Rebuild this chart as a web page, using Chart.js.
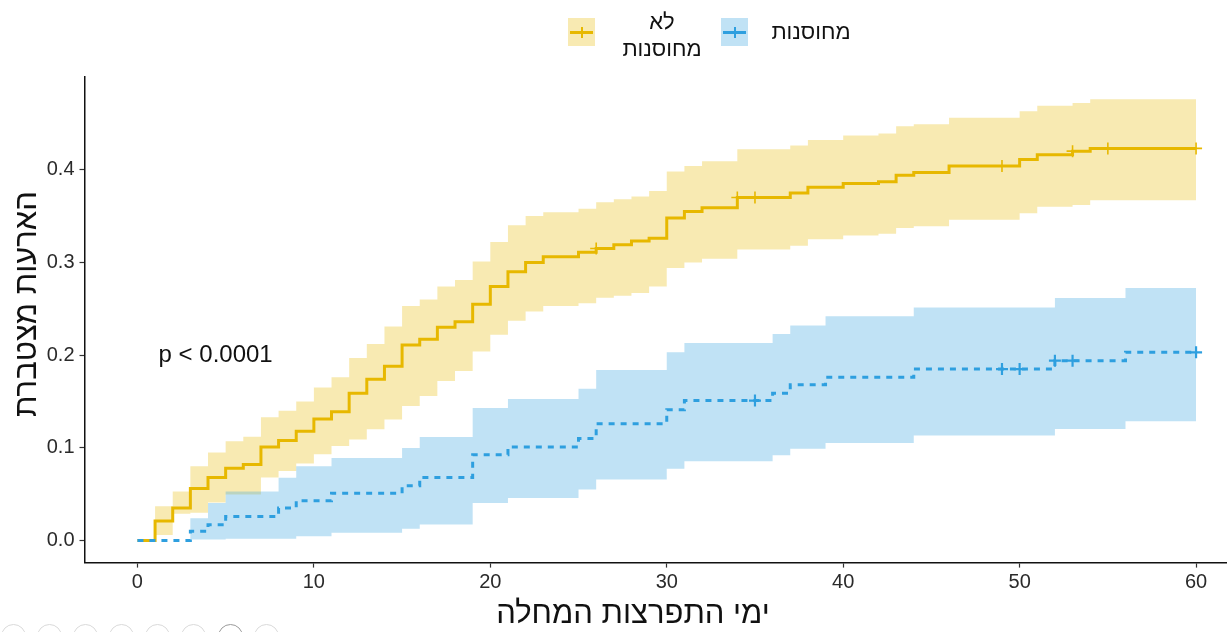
<!DOCTYPE html>
<html lang="he">
<head>
<meta charset="utf-8">
<title>הארעות מצטברת</title>
<script src="https://cdn.jsdelivr.net/npm/chart.js@4.4.1/dist/chart.umd.min.js"></script>
<style>
  html, body { margin: 0; padding: 0; background: #fff; }
  body { width: 1227px; height: 632px; overflow: hidden; position: relative;
         font-family: "Liberation Sans", Arial, "DejaVu Sans", sans-serif; color: #111; }
  #plot { position: absolute; left: 0; top: 0; }
  .key { position: absolute; width: 27px; height: 28px; }
  .key .h { position: absolute; left: 2px; right: 2px; top: 12.5px; height: 3px; }
  .key .v { position: absolute; left: 12.5px; width: 2px; top: 8.5px; height: 11px; }
  .lab { position: absolute; direction: rtl; font-size: 22px; line-height: 27px; text-align: center; white-space: nowrap; }
  .ytitle { position: absolute; width: 400px; text-align: center; direction: rtl; font-size: 31px; line-height: 36px;
            transform: rotate(-90deg); transform-origin: 50% 50%; white-space: nowrap; }
  .xtitle { position: absolute; width: 500px; text-align: center; direction: rtl; font-size: 31px; line-height: 36px; white-space: nowrap; }
  .dot { position: absolute; width: 25px; height: 25px; border-radius: 50%; border: 1.5px solid #d9d9d9; box-sizing: border-box; }
</style>
</head>
<body>
<canvas id="plot" width="1300" height="632"></canvas>

<div class="key" style="left:568px; top:18px; background:rgba(231,184,0,0.3)"><div class="h" style="background:#E7B800"></div><div class="v" style="background:#E7B800"></div></div>
<div class="lab" style="left:612px; top:8px; width:100px;">לא<br>מחוסנות</div>
<div class="key" style="left:721px; top:18px; background:rgba(46,159,223,0.3)"><div class="h" style="background:#2E9FDF"></div><div class="v" style="background:#2E9FDF"></div></div>
<div class="lab" style="left:770px; top:18px; width:82px;">מחוסנות</div>

<div class="ytitle" style="left:-174px; top:286px;">הארעות מצטברת</div>
<div class="xtitle" style="left:383px; top:595px;">ימי התפרצות המחלה</div>

<div class="dot" style="left:1px; top:624px"></div>
<div class="dot" style="left:37px; top:624px"></div>
<div class="dot" style="left:73px; top:624px"></div>
<div class="dot" style="left:109px; top:624px"></div>
<div class="dot" style="left:145px; top:624px"></div>
<div class="dot" style="left:181px; top:624px"></div>
<div class="dot" style="left:218px; top:624px; border-color:#9a9a9a"></div>
<div class="dot" style="left:254px; top:624px"></div>

<script>
// Cumulative incidence by day, not vaccinated (yellow)
const unvaxDays  = [0, 1, 2, 3, 4, 5, 6, 7, 8, 9, 10, 11, 12, 13, 14, 15, 16, 17, 18, 19, 20, 21, 22, 23, 25, 26, 27, 28, 29, 30, 31, 32, 34, 37, 38, 40, 42, 43, 44, 46, 50, 51, 53, 54, 60];
const unvaxCum   = [0, 0.021, 0.035, 0.056, 0.068, 0.078, 0.082, 0.101, 0.108, 0.118, 0.131, 0.139, 0.159, 0.174, 0.188, 0.211, 0.217, 0.230, 0.236, 0.255, 0.274, 0.290, 0.300, 0.306, 0.311, 0.315, 0.319, 0.323, 0.326, 0.348, 0.355, 0.359, 0.370, 0.375, 0.381, 0.385, 0.387, 0.394, 0.397, 0.404, 0.411, 0.416, 0.420, 0.423, 0.423];
const unvaxUpper = [0, 0.037, 0.053, 0.080, 0.095, 0.107, 0.112, 0.133, 0.140, 0.150, 0.165, 0.176, 0.197, 0.212, 0.231, 0.253, 0.260, 0.274, 0.281, 0.301, 0.322, 0.340, 0.350, 0.354, 0.358, 0.365, 0.368, 0.371, 0.377, 0.398, 0.404, 0.409, 0.422, 0.426, 0.432, 0.437, 0.439, 0.447, 0.449, 0.456, 0.463, 0.469, 0.472, 0.476, 0.476];
const unvaxLower = [0, 0.006, 0.029, 0.030, 0.041, 0.0496, 0.0496, 0.068, 0.075, 0.083, 0.093, 0.102, 0.109, 0.120, 0.1305, 0.145, 0.156, 0.172, 0.183, 0.204, 0.222, 0.237, 0.247, 0.253, 0.256, 0.262, 0.264, 0.267, 0.274, 0.294, 0.300, 0.304, 0.314, 0.318, 0.325, 0.329, 0.331, 0.337, 0.339, 0.346, 0.353, 0.360, 0.362, 0.367, 0.367];
const unvaxCensorDays = [26, 34, 35, 49, 53, 55, 60];
const unvaxCensorCum  = [0.315, 0.370, 0.370, 0.404, 0.420, 0.423, 0.423];

// Cumulative incidence by day, vaccinated (blue)
const vaxDays  = [0, 3, 4, 5, 8, 9, 11, 15, 16, 19, 21, 25, 26, 30, 31, 36, 37, 39, 44, 52, 56, 60];
const vaxCum   = [0, 0.010, 0.017, 0.026, 0.035, 0.043, 0.051, 0.059, 0.068, 0.0925, 0.101, 0.110, 0.126, 0.141, 0.151, 0.159, 0.168, 0.176, 0.185, 0.194, 0.203, 0.203];
const vaxUpper = [0, 0.024, 0.0406, 0.053, 0.0676, 0.080, 0.089, 0.0999, 0.1118, 0.143, 0.1528, 0.1636, 0.184, 0.203, 0.213, 0.2228, 0.232, 0.2418, 0.2515, 0.2616, 0.2724, 0.2724];
const vaxLower = [0, 0.001, 0.001, 0.002, 0.002, 0.0047, 0.0083, 0.0126, 0.0172, 0.0406, 0.046, 0.055, 0.0658, 0.0773, 0.0855, 0.092, 0.0989, 0.1053, 0.1132, 0.1204, 0.1287, 0.1287];
const vaxCensorDays = [35, 49, 50, 52, 53, 60];
const vaxCensorCum  = [0.151, 0.185, 0.185, 0.194, 0.194, 0.203];

const xTicks = [0, 10, 20, 30, 40, 50, 60];
const yTicks = [0, 0.1, 0.2, 0.3, 0.4];
const pText = 'p < 0.0001';
const pPos = [1.2, 0.2];

const YELLOW = '#E7B800';
const BLUE = '#2E9FDF';
const FONT = '"Liberation Sans", Arial, "DejaVu Sans", sans-serif';

const pts = (xs, ys) => xs.map((x, i) => ({ x, y: ys[i] }));

const band = (xs, ys, color, fill, order) => ({
  data: pts(xs, ys), stepped: true, borderWidth: 0, pointRadius: 0,
  backgroundColor: color, fill, order
});

const pValueLabel = {
  id: 'pValueLabel',
  afterDatasetsDraw(chart) {
    const { ctx, scales: { x, y } } = chart;
    ctx.save();
    ctx.font = '24px ' + FONT;
    ctx.fillStyle = '#111';
    ctx.textAlign = 'left';
    ctx.textBaseline = 'middle';
    ctx.fillText(pText, x.getPixelForValue(pPos[0]), y.getPixelForValue(pPos[1]));
    ctx.restore();
  }
};

new Chart(document.getElementById('plot'), {
  type: 'line',
  data: {
    datasets: [
      band(unvaxDays, unvaxUpper, 'rgba(231,184,0,0.3)', '+1', 9),
      band(unvaxDays, unvaxLower, 'transparent', false, 9),
      band(vaxDays, vaxUpper, 'rgba(46,159,223,0.3)', '+1', 8),
      band(vaxDays, vaxLower, 'transparent', false, 8),
      { data: pts(unvaxDays, unvaxCum), stepped: true, borderColor: YELLOW, borderWidth: 3,
        pointRadius: 0, fill: false, order: 4 },
      { data: pts(vaxDays, vaxCum), stepped: true, borderColor: BLUE, borderWidth: 3,
        borderDash: [6, 6], borderCapStyle: 'butt', pointRadius: 0, fill: false, order: 3 },
      { data: pts(unvaxCensorDays, unvaxCensorCum), showLine: false, pointStyle: 'cross',
        pointRadius: 6, pointBorderWidth: 1.6, borderColor: YELLOW, order: 2 },
      { data: pts(vaxCensorDays, vaxCensorCum), showLine: false, pointStyle: 'cross',
        pointRadius: 6, pointBorderWidth: 2.2, borderColor: BLUE, order: 1 }
    ]
  },
  options: {
    responsive: false,
    devicePixelRatio: 1,
    animation: false,
    events: [],
    layout: { padding: { left: 0, right: 51, top: 77, bottom: 0 } },
    plugins: { legend: { display: false }, tooltip: { enabled: false } },
    scales: {
      x: {
        type: 'linear', min: -3, max: 63,
        afterBuildTicks: s => { s.ticks = xTicks.map(v => ({ value: v })); },
        afterFit: s => { s.height = 69.4; },
        grid: { drawOnChartArea: false, drawTicks: true, tickLength: 5, tickColor: '#333', tickWidth: 1.2 },
        border: { display: true, color: '#111', width: 1.5 },
        ticks: { font: { family: FONT, size: 20 }, color: '#2a2a2a', padding: 3, maxRotation: 0,
                 callback: v => String(v) }
      },
      y: {
        type: 'linear', min: -0.0238, max: 0.5,
        afterBuildTicks: s => { s.ticks = yTicks.map(v => ({ value: v })); },
        afterFit: s => { s.width = 84.5; },
        grid: { drawOnChartArea: false, drawTicks: true, tickLength: 5, tickColor: '#333', tickWidth: 1.2 },
        border: { display: true, color: '#111', width: 1.5 },
        ticks: { font: { family: FONT, size: 20 }, color: '#2a2a2a', padding: 5,
                 callback: v => Number(v).toFixed(1) }
      }
    }
  },
  plugins: [pValueLabel]
});
</script>
</body>
</html>
